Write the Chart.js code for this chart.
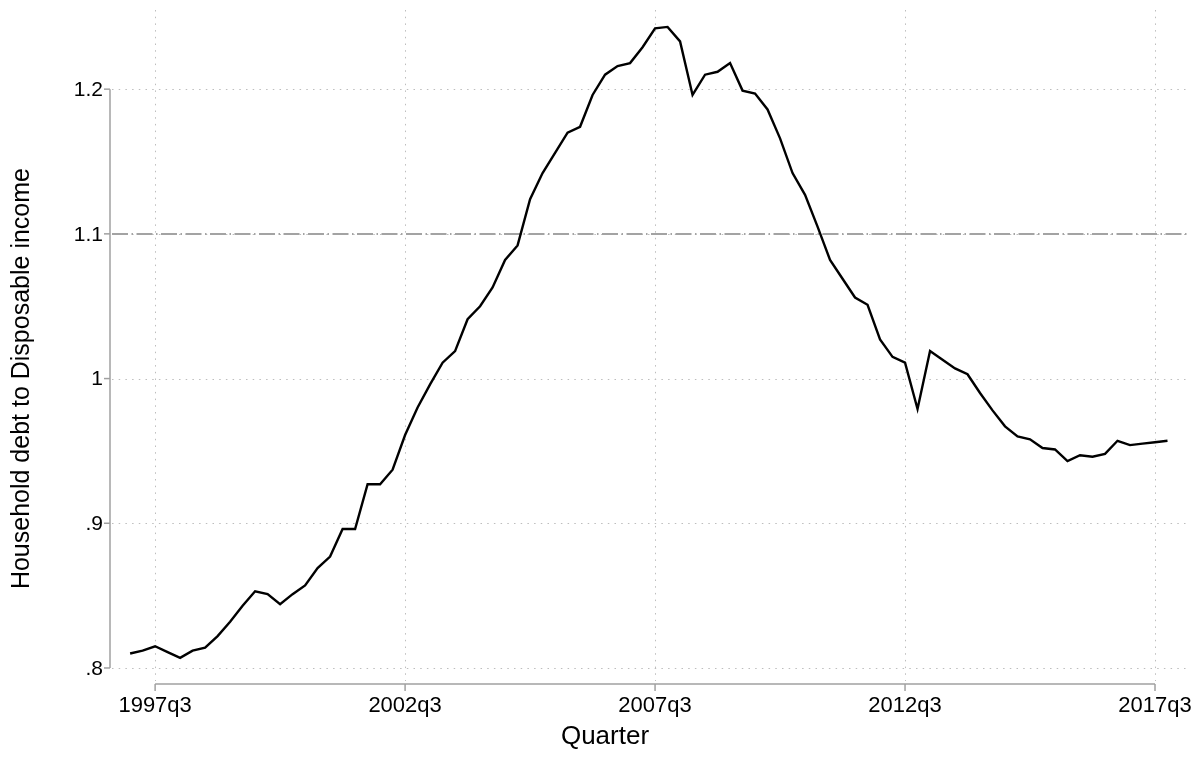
<!DOCTYPE html>
<html>
<head>
<meta charset="utf-8">
<script src="https://cdn.jsdelivr.net/npm/chart.js@4.4.1/dist/chart.umd.min.js"></script>
<style>
html,body{margin:0;padding:0;background:#fff;}
#wrap{width:1193px;height:761px;position:relative;}
</style>
</head>
<body>
<div id="wrap"><canvas id="c" width="1193" height="761"></canvas></div>
<script>
// Quarter labels (categories)
const quarters = [
 '1997q1','1997q2','1997q3','1997q4','1998q1','1998q2','1998q3','1998q4',
 '1999q1','1999q2','1999q3','1999q4','2000q1','2000q2','2000q3','2000q4',
 '2001q1','2001q2','2001q3','2001q4','2002q1','2002q2','2002q3','2002q4',
 '2003q1','2003q2','2003q3','2003q4','2004q1','2004q2','2004q3','2004q4',
 '2005q1','2005q2','2005q3','2005q4','2006q1','2006q2','2006q3','2006q4',
 '2007q1','2007q2','2007q3','2007q4','2008q1','2008q2','2008q3','2008q4',
 '2009q1','2009q2','2009q3','2009q4','2010q1','2010q2','2010q3','2010q4',
 '2011q1','2011q2','2011q3','2011q4','2012q1','2012q2','2012q3','2012q4',
 '2013q1','2013q2','2013q3','2013q4','2014q1','2014q2','2014q3','2014q4',
 '2015q1','2015q2','2015q3','2015q4','2016q1','2016q2','2016q3','2016q4',
 '2017q1','2017q2','2017q3','2017q4'
];
// Household debt to disposable income
const debtRatio = [
 0.810,0.812,0.815,0.811,0.807,0.812,0.814,0.822,
 0.832,0.843,0.853,0.851,0.844,0.851,0.857,0.869,
 0.877,0.896,0.896,0.927,0.927,0.937,0.961,0.980,
 0.996,1.011,1.019,1.041,1.050,1.063,1.082,1.092,
 1.124,1.142,1.156,1.170,1.174,1.196,1.210,1.216,
 1.218,1.229,1.242,1.243,1.233,1.196,1.210,1.212,
 1.218,1.199,1.197,1.186,1.166,1.142,1.127,1.105,
 1.082,1.069,1.056,1.051,1.027,1.015,1.011,0.979,
 1.019,1.013,1.007,1.003,0.990,0.978,0.967,0.960,
 0.958,0.952,0.951,0.943,0.947,0.946,0.948,0.957,
 0.954,0.955,0.956,0.957
];
const xTickLabels = ['1997q3','2002q3','2007q3','2012q3','2017q3'];
const yTickValues = [0.8, 0.9, 1.0, 1.1, 1.2];
const yTickLabels = ['.8', '.9', '1', '1.1', '1.2'];
const refLineValue = [1.1];
const yTitle = 'Household debt to Disposable income';
const xTitle = 'Quarter';

const points = debtRatio.map((v, i) => ({x: i, y: v}));
const FONT = '"Liberation Sans", Arial, sans-serif';

const stataAxes = {
  id: 'stataAxes',
  beforeDatasetsDraw(chart) {
    const ctx = chart.ctx, a = chart.chartArea;
    const xs = chart.scales.x, ys = chart.scales.y;
    ctx.save();
    // dotted grid
    ctx.strokeStyle = '#bdbdbd';
    ctx.lineWidth = 1;
    ctx.setLineDash([1.5, 5.2]);
    yTickValues.forEach(v => {
      const y = Math.round(ys.getPixelForValue(v)) + 0.5;
      ctx.beginPath(); ctx.moveTo(a.left, y); ctx.lineTo(a.right, y); ctx.stroke();
    });
    xTickLabels.forEach(l => {
      const x = Math.round(xs.getPixelForValue(quarters.indexOf(l))) + 0.5;
      ctx.beginPath(); ctx.moveTo(x, a.top); ctx.lineTo(x, a.bottom); ctx.stroke();
    });
    // reference line
    ctx.strokeStyle = '#a3a3a3';
    ctx.lineWidth = 2;
    ctx.setLineDash([16, 3.5, 1.5, 3.5]);
    refLineValue.forEach(v => {
      const y = Math.round(ys.getPixelForValue(v));
      ctx.beginPath(); ctx.moveTo(a.left, y); ctx.lineTo(a.right, y); ctx.stroke();
    });
    ctx.restore();
  },
  afterDraw(chart) {
    const ctx = chart.ctx, a = chart.chartArea;
    const xs = chart.scales.x, ys = chart.scales.y;
    ctx.save();
    ctx.setLineDash([]);
    ctx.strokeStyle = '#a0a0a0';
    ctx.lineWidth = 1.5;
    // y axis
    const yAxisX = 110;
    const yTop = ys.getPixelForValue(yTickValues[yTickValues.length - 1]);
    const yBot = ys.getPixelForValue(yTickValues[0]);
    ctx.beginPath(); ctx.moveTo(yAxisX, yTop); ctx.lineTo(yAxisX, yBot); ctx.stroke();
    ctx.fillStyle = '#000';
    ctx.font = '21px ' + FONT;
    ctx.textAlign = 'right';
    ctx.textBaseline = 'middle';
    yTickValues.forEach((v, i) => {
      const y = ys.getPixelForValue(v);
      ctx.beginPath(); ctx.moveTo(yAxisX - 6, y); ctx.lineTo(yAxisX, y); ctx.stroke();
      ctx.fillText(yTickLabels[i], yAxisX - 7, y + 1);
    });
    // x axis
    const xAxisY = 684;
    const xl = xs.getPixelForValue(quarters.indexOf(xTickLabels[0]));
    const xr = xs.getPixelForValue(quarters.indexOf(xTickLabels[xTickLabels.length - 1]));
    ctx.beginPath(); ctx.moveTo(xl, xAxisY); ctx.lineTo(xr, xAxisY); ctx.stroke();
    ctx.textAlign = 'center';
    ctx.textBaseline = 'middle';
    ctx.font = '22px ' + FONT;
    xTickLabels.forEach(l => {
      const x = xs.getPixelForValue(quarters.indexOf(l));
      ctx.beginPath(); ctx.moveTo(x, xAxisY); ctx.lineTo(x, xAxisY + 7); ctx.stroke();
      ctx.fillText(l, x, 706);
    });
    // titles
    ctx.font = '26px ' + FONT;
    ctx.fillText(xTitle, 605, 737);
    ctx.font = '25px ' + FONT;
    ctx.translate(22, (yTop + yBot) / 2);
    ctx.rotate(-Math.PI / 2);
    ctx.fillText(yTitle, 0, 0);
    ctx.restore();
  }
};

new Chart(document.getElementById('c'), {
  type: 'line',
  data: {
    datasets: [{
      data: points,
      borderColor: '#000',
      borderWidth: 2.4,
      pointRadius: 0,
      tension: 0,
      fill: false
    }]
  },
  options: {
    responsive: false,
    animation: false,
    layout: {padding: {left: 112, right: 3, top: 10, bottom: 80}},
    plugins: {legend: {display: false}, tooltip: {enabled: false}},
    scales: {
      x: {type: 'linear', display: false, min: -1.45, max: 84.8},
      y: {type: 'linear', display: false, min: 0.791, max: 1.2547}
    }
  },
  plugins: [stataAxes]
});
</script>
</body>
</html>
